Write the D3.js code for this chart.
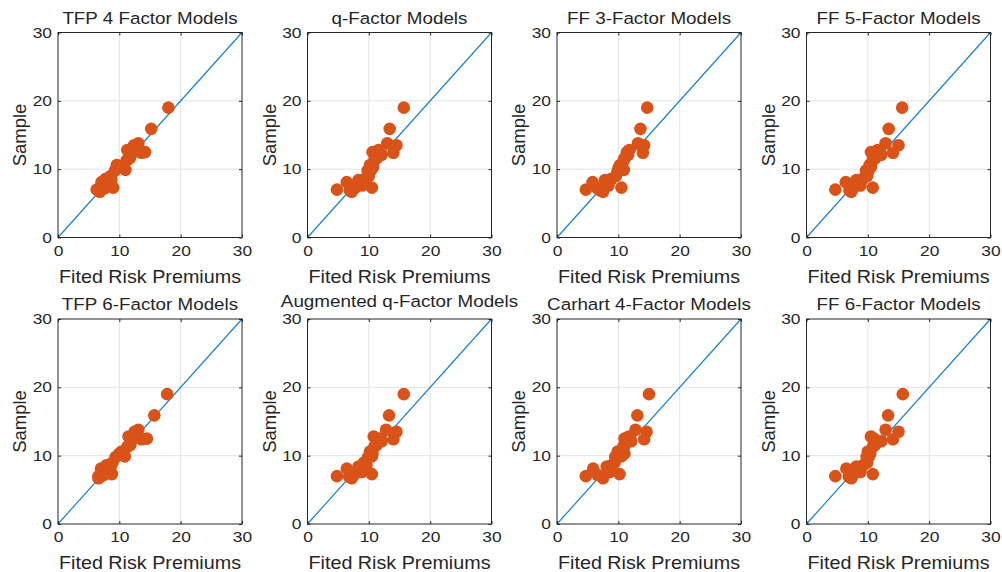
<!DOCTYPE html>
<html>
<head>
<meta charset="utf-8">
<script src="https://cdn.jsdelivr.net/npm/d3@7"></script>
<style>
  body { margin: 0; background: #fff; }
  svg { display: block; }
  text { font-family: "Liberation Sans", Arial, Helvetica, sans-serif; fill: #262626; }
</style>
</head>
<body>
<svg id="chart" width="1002" height="572"></svg>
<script>
// Panel titles, in reading order (row by row)
const modelTitles = [
  "TFP 4 Factor Models", "q-Factor Models", "FF 3-Factor Models", "FF 5-Factor Models",
  "TFP 6-Factor Models", "Augmented q-Factor Models", "Carhart 4-Factor Models", "FF 6-Factor Models"
];

// Sample (realised) risk premiums of the test portfolios, shared by every panel
const sample = [19.0, 15.9, 13.8, 13.5, 12.8, 12.5, 12.4, 12.1, 11.6, 11.3, 10.6, 10.3,
                9.9, 9.8, 9.0, 8.6, 8.4, 8.1, 7.6, 7.3, 7.2, 7.0, 6.9, 6.7];

// Fitted risk premiums from each model, same portfolio order as `sample`
const fittedTFP4    = [18.0, 15.2, 13.1, 12.4, 11.3, 14.2, 13.6, 11.9, 11.7, 11.2, 9.6, 10.2,
                       11.0, 9.3, 8.6, 7.8, 8.7, 7.1, 8.3, 9.0, 7.6, 6.3, 7.0, 6.8];
const fittedQ       = [15.7, 13.4, 13.0, 14.5, 11.6, 10.6, 14.0, 12.1, 11.3, 10.9, 10.2, 10.7,
                       10.4, 9.8, 10.0, 9.4, 8.3, 6.4, 8.9, 10.5, 7.7, 4.8, 6.9, 7.2];
const fittedFF3     = [14.7, 13.6, 13.2, 14.2, 11.8, 11.4, 14.0, 11.6, 11.0, 10.9, 10.3, 10.1,
                       10.9, 9.9, 9.6, 8.9, 7.8, 5.8, 8.4, 10.5, 6.6, 4.7, 7.0, 7.5];
const fittedFF5     = [15.6, 13.4, 12.9, 15.0, 11.6, 10.5, 14.1, 12.2, 11.2, 10.8, 10.3, 10.5,
                       10.2, 9.7, 9.9, 9.2, 8.1, 6.4, 8.8, 10.8, 7.6, 4.7, 7.0, 7.3];
const fittedTFP6    = [17.8, 15.7, 13.1, 12.5, 11.5, 14.5, 13.6, 11.9, 11.8, 11.3, 10.4, 10.0,
                       10.9, 9.4, 8.9, 7.9, 8.6, 7.0, 7.8, 8.8, 7.5, 6.6, 6.9, 6.6];
const fittedAugQ    = [15.7, 13.3, 12.8, 14.5, 10.8, 11.8, 14.0, 12.1, 11.3, 10.9, 10.2, 10.6,
                       10.5, 9.9, 9.2, 9.6, 8.3, 6.4, 8.9, 10.5, 7.6, 4.8, 6.8, 7.2];
const fittedCarhart = [15.0, 13.1, 12.8, 14.6, 11.7, 11.0, 14.2, 12.1, 11.1, 10.8, 9.9, 11.0,
                       10.5, 9.5, 9.4, 8.9, 8.1, 5.9, 8.6, 10.2, 6.6, 4.7, 7.5, 7.5];
const fittedFF6     = [15.7, 13.3, 12.9, 15.0, 10.5, 11.0, 14.1, 12.2, 11.2, 10.8, 10.0, 10.4,
                       10.2, 9.8, 9.9, 9.2, 8.1, 6.5, 8.8, 10.8, 7.6, 4.7, 6.9, 7.3];

const fittedSeries = [fittedTFP4, fittedQ, fittedFF3, fittedFF5,
                      fittedTFP6, fittedAugQ, fittedCarhart, fittedFF6];

// Axis range and tick labels (both axes)
const axisDomain = [0, 30];
const axisTicks = [0, 10, 20, 30];

// Layout of the 2 x 4 grid of axes
const colLeft = [58, 307.5, 557, 806.5];
const rowTop = [32.5, 319];
const plotW = 184, plotH = 205;

const dotColor = "#D95319";
const lineColor = "#1a82cb";
const axisColor = "#262626";
const gridColor = "#e3e3e3";

// Text is drawn slightly wide, like the original figure export
const textStretch = 1.12;
const tickStretch = 1.2;

const svg = d3.select("#chart");

modelTitles.forEach((title, i) => {
  const col = i % 4, row = Math.floor(i / 4);
  const g = svg.append("g").attr("transform", `translate(${colLeft[col]},${rowTop[row]})`);

  const x = d3.scaleLinear().domain(axisDomain).range([0, plotW]);
  const y = d3.scaleLinear().domain(axisDomain).range([plotH, 0]);

  // grid lines
  g.append("g").selectAll("line").data(axisTicks.slice(1, -1)).join("line")
    .attr("x1", d => x(d)).attr("x2", d => x(d)).attr("y1", 0).attr("y2", plotH)
    .attr("stroke", gridColor).attr("stroke-width", 1);
  g.append("g").selectAll("line").data(axisTicks.slice(1, -1)).join("line")
    .attr("y1", d => y(d)).attr("y2", d => y(d)).attr("x1", 0).attr("x2", plotW)
    .attr("stroke", gridColor).attr("stroke-width", 1);

  // 45-degree reference line
  g.append("line")
    .attr("x1", x(axisDomain[0])).attr("y1", y(axisDomain[0]))
    .attr("x2", x(axisDomain[1])).attr("y2", y(axisDomain[1]))
    .attr("stroke", lineColor).attr("stroke-width", 1.2);

  // scatter of fitted vs sample premiums
  const fitted = fittedSeries[i];
  g.append("g").selectAll("circle").data(sample).join("circle")
    .attr("cx", (d, k) => x(fitted[k]))
    .attr("cy", d => y(d))
    .attr("r", 6.3)
    .attr("fill", dotColor);

  // axes with inward ticks
  const styleAxis = sel => {
    sel.select(".domain").remove();
    sel.selectAll(".tick line").attr("stroke", axisColor);
    sel.selectAll(".tick text").attr("fill", axisColor).style("font-size", "14.5px")
      .attr("transform", `scale(${tickStretch},1)`);
  };
  g.append("g").attr("transform", `translate(0,${plotH})`)
    .call(d3.axisBottom(x).tickValues(axisTicks).tickSize(-3).tickPadding(6).tickFormat(d3.format("d")))
    .call(styleAxis)
    .selectAll(".tick text").attr("dy", "0.85em");
  g.append("g")
    .call(d3.axisLeft(y).tickValues(axisTicks).tickSize(-3).tickPadding(5).tickFormat(d3.format("d")))
    .call(styleAxis);
  g.append("g")
    .call(d3.axisTop(x).tickValues(axisTicks).tickSize(-3).tickFormat(""))
    .call(styleAxis);
  g.append("g").attr("transform", `translate(${plotW},0)`)
    .call(d3.axisRight(y).tickValues(axisTicks).tickSize(-3).tickFormat(""))
    .call(styleAxis);

  // axes box
  g.append("rect").attr("x", 0).attr("y", 0).attr("width", plotW).attr("height", plotH)
    .attr("fill", "none").attr("stroke", axisColor).attr("stroke-width", 1);

  // title; a title wider than the axes is lifted clear of the top tick label
  const titleText = g.append("text")
    .attr("transform", `translate(${plotW / 2},-9) scale(${textStretch},1)`)
    .attr("text-anchor", "middle").style("font-size", "16.8px").text(title);
  const titleW = titleText.node().getComputedTextLength() * textStretch;
  if (titleW > plotW + 20) {
    titleText.attr("transform", `translate(${plotW / 2},-12.5) scale(${textStretch},1)`);
  }

  // axis labels
  g.append("text")
    .attr("transform", `translate(${plotW / 2},${plotH + 45}) scale(${textStretch * 0.98},1)`)
    .attr("text-anchor", "middle").style("font-size", "18px").text("Fited Risk Premiums");
  g.append("text")
    .attr("transform", `translate(-32,${plotH / 2}) rotate(-90)`)
    .attr("text-anchor", "middle").style("font-size", "18.5px").text("Sample");
});
</script>
</body>
</html>
